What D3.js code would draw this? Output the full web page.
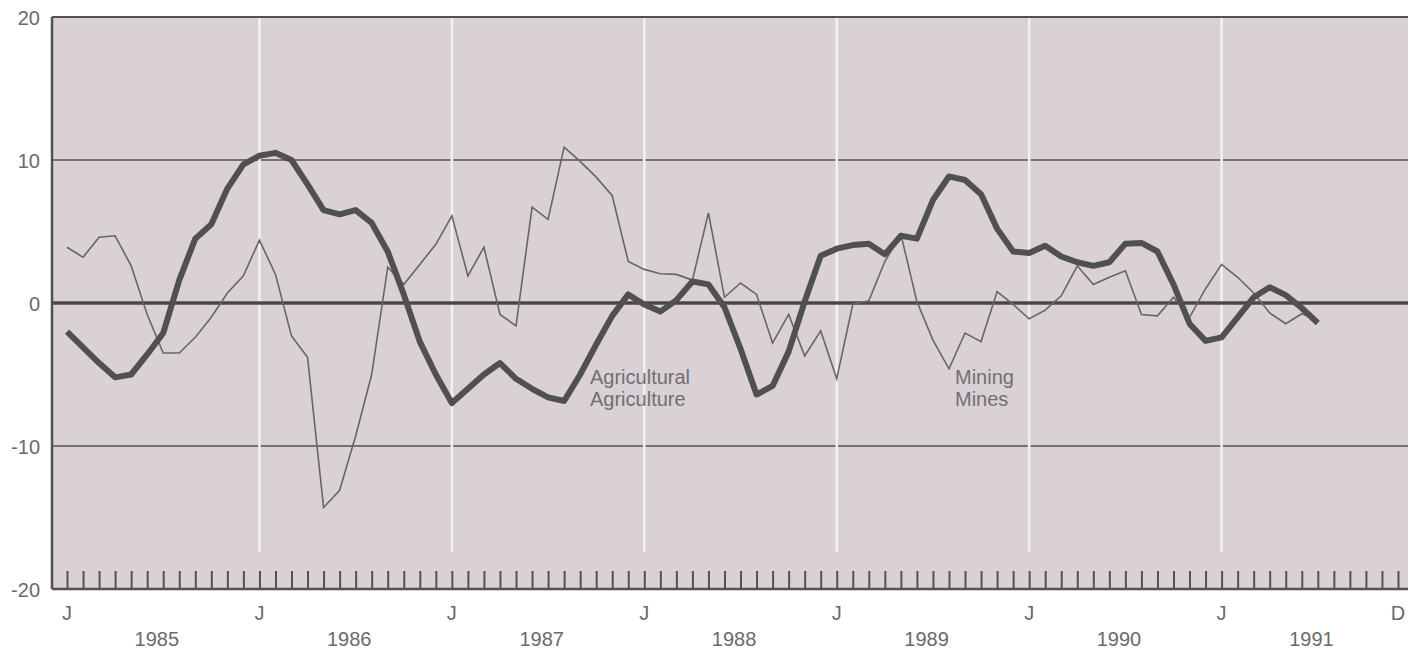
<!DOCTYPE html>
<html>
<head>
<meta charset="utf-8">
<script src="https://cdn.jsdelivr.net/npm/d3@7/dist/d3.min.js"></script>
<style>
  body { margin: 0; background: #fff; }
  svg { display: block; font-family: "Liberation Sans", Arial, Helvetica, sans-serif; }
</style>
</head>
<body>
<svg id="chart" width="1408" height="649"></svg>
<script>
// monthly values, Jan 1985 - Jul 1991
const agriculture = [
  -2.0, -3.1, -4.2, -5.2, -5.0, -3.6, -2.1, 1.6, 4.5, 5.5, 8.0, 9.7,
  10.3, 10.5, 10.0, 8.3, 6.5, 6.2, 6.5, 5.6, 3.6, 0.6, -2.7, -5.0,
  -7.0, -6.0, -5.0, -4.2, -5.3, -6.0, -6.6, -6.85, -5.0, -2.9, -0.9, 0.6,
  -0.1, -0.6, 0.2, 1.5, 1.3, -0.3, -3.2, -6.4, -5.8, -3.4, 0.1, 3.3,
  3.8, 4.05, 4.15, 3.4, 4.7, 4.5, 7.2, 8.85, 8.6, 7.6, 5.2, 3.6,
  3.5, 4.0, 3.25, 2.85, 2.6, 2.85, 4.15, 4.2, 3.6, 1.3, -1.45, -2.65,
  -2.4, -1.0, 0.4, 1.1, 0.55, -0.35, -1.4
];
const mining = [
  3.9, 3.2, 4.6, 4.7, 2.6, -0.8, -3.5, -3.5, -2.4, -1.0, 0.7, 1.9,
  4.4, 2.0, -2.3, -3.8, -14.3, -13.1, -9.3, -5.0, 2.5, 1.3, 2.7, 4.1,
  6.1, 1.9, 3.9, -0.8, -1.6, 6.7, 5.85, 10.9, 9.9, 8.8, 7.5, 2.9,
  2.35, 2.05, 2.0, 1.6, 6.3, 0.4, 1.4, 0.6, -2.8, -0.8, -3.7, -1.95,
  -5.3, -0.1, 0.15, 2.9, 4.8, 0.1, -2.6, -4.6, -2.1, -2.7, 0.8, -0.1,
  -1.1, -0.5, 0.5, 2.6, 1.3, 1.8, 2.25, -0.8, -0.9, 0.4, -1.0, 1.0,
  2.7, 1.8, 0.7, -0.7, -1.45, -0.75, -1.2
];

const yTicks = [20, 10, 0, -10, -20];
const yTickLabels = ["20", "10", "0", "-10", "-20"];
const monthLetters = ["J", "J", "J", "J", "J", "J", "J", "D"];
const letterMonths = [0, 12, 24, 36, 48, 60, 72, 83];
const yearStarts = [12, 24, 36, 48, 60, 72];
const years = ["1985", "1986", "1987", "1988", "1989", "1990", "1991"];

const PLOT = { left: 52, right: 1408, top: 17, bottom: 589 };
const INK = "#525252";
const TEXT = "#6a6a6a";

const x = d3.scaleLinear().domain([0, 83]).range([67, 1398]);
const y = d3.scaleLinear().domain([-20, 20]).range([PLOT.bottom, PLOT.top]);

const svg = d3.select("#chart");

// background panel
svg.append("rect")
  .attr("x", PLOT.left).attr("y", PLOT.top)
  .attr("width", PLOT.right - PLOT.left).attr("height", PLOT.bottom - PLOT.top)
  .attr("fill", "#d9d1d6");

// +/-10 grid lines
svg.append("g").selectAll("line")
  .data([10, -10]).enter().append("line")
  .attr("x1", PLOT.left).attr("x2", PLOT.right)
  .attr("y1", d => y(d)).attr("y2", d => y(d))
  .attr("stroke", INK).attr("stroke-width", 1.6);

// white year separators
svg.append("g").selectAll("line")
  .data(yearStarts).enter().append("line")
  .attr("x1", d => x(d)).attr("x2", d => x(d))
  .attr("y1", PLOT.top + 1).attr("y2", 552)
  .attr("stroke", "#f4f1f3").attr("stroke-width", 2.5);

// zero line
svg.append("line")
  .attr("x1", PLOT.left).attr("x2", PLOT.right)
  .attr("y1", y(0)).attr("y2", y(0))
  .attr("stroke", "#484848").attr("stroke-width", 3.5);

// frame: top and left
svg.append("line")
  .attr("x1", PLOT.left).attr("x2", PLOT.right)
  .attr("y1", PLOT.top).attr("y2", PLOT.top)
  .attr("stroke", INK).attr("stroke-width", 2);
svg.append("line")
  .attr("x1", PLOT.left).attr("x2", PLOT.left)
  .attr("y1", PLOT.top).attr("y2", PLOT.bottom)
  .attr("stroke", INK).attr("stroke-width", 2.5);

// monthly ticks along the bottom
const xAxis = d3.axisBottom(x)
  .tickValues(d3.range(0, 84))
  .tickSize(-18)
  .tickFormat("");
const axisG = svg.append("g")
  .attr("transform", "translate(0," + PLOT.bottom + ")")
  .call(xAxis);
axisG.select(".domain").remove();
axisG.selectAll(".tick line").attr("stroke", INK).attr("stroke-width", 2);
svg.append("line")
  .attr("x1", PLOT.left).attr("x2", PLOT.right)
  .attr("y1", PLOT.bottom).attr("y2", PLOT.bottom)
  .attr("stroke", INK).attr("stroke-width", 2.5);

// y labels
svg.append("g").selectAll("text")
  .data(yTicks).enter().append("text")
  .attr("x", 40).attr("y", d => y(d) + 3)
  .attr("text-anchor", "end").attr("dominant-baseline", "middle")
  .attr("font-size", 20).attr("fill", TEXT)
  .text((d, i) => yTickLabels[i]);

// month letters and years
svg.append("g").selectAll("text")
  .data(monthLetters).enter().append("text")
  .attr("x", (d, i) => x(letterMonths[i])).attr("y", 620)
  .attr("text-anchor", "middle")
  .attr("font-size", 20).attr("fill", TEXT)
  .text(d => d);
svg.append("g").selectAll("text")
  .data(years).enter().append("text")
  .attr("x", (d, i) => x(i * 12 + 5.6)).attr("y", 646)
  .attr("text-anchor", "middle")
  .attr("font-size", 20).attr("fill", TEXT)
  .text(d => d);

const line = d3.line()
  .x((d, i) => x(i))
  .y(d => y(d));

svg.append("path").datum(mining)
  .attr("d", line)
  .attr("fill", "none").attr("stroke", "#666").attr("stroke-width", 1.6)
  .attr("stroke-linejoin", "miter");

svg.append("path").datum(agriculture)
  .attr("d", line)
  .attr("fill", "none").attr("stroke", "#505050").attr("stroke-width", 6)
  .attr("stroke-linejoin", "round");

// series labels
function label(lines, px, py) {
  svg.append("g").selectAll("text")
    .data(lines).enter().append("text")
    .attr("x", px).attr("y", (d, i) => py + i * 22)
    .attr("font-size", 20).attr("fill", "#707070")
    .text(d => d);
}
label(["Agricultural", "Agriculture"], 590, 384);
label(["Mining", "Mines"], 955, 384);
</script>
</body>
</html>
